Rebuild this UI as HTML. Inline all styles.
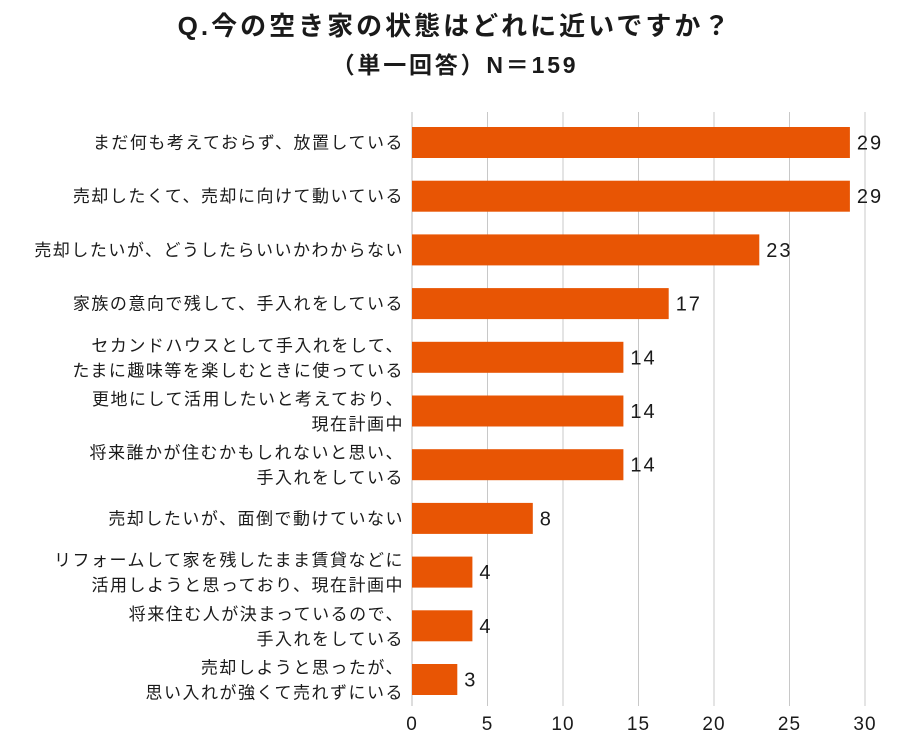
<!DOCTYPE html>
<html><head><meta charset="utf-8"><style>
body{margin:0;background:#fff;width:910px;height:738px;overflow:hidden}
svg text{font-family:"Liberation Sans","Noto Sans CJK JP",sans-serif;fill:#1a1a1a}
</style></head><body>
<svg id="chart" width="910" height="738">
<text x="455" y="35" text-anchor="middle" font-size="26" font-weight="bold" letter-spacing="3">Q.今の空き家の状態はどれに近いですか？</text>
<text x="455" y="73" text-anchor="middle" font-size="23" font-weight="bold" letter-spacing="2.8">（単一回答）N＝159</text>
<g id="grid"></g><g id="bars"></g>
</svg>
<script>
const categories=[["まだ何も考えておらず、放置している"],["売却したくて、売却に向けて動いている"],["売却したいが、どうしたらいいかわからない"],["家族の意向で残して、手入れをしている"],["セカンドハウスとして手入れをして、","たまに趣味等を楽しむときに使っている"],["更地にして活用したいと考えており、","現在計画中"],["将来誰かが住むかもしれないと思い、","手入れをしている"],["売却したいが、面倒で動けていない"],["リフォームして家を残したまま賃貸などに","活用しようと思っており、現在計画中"],["将来住む人が決まっているので、","手入れをしている"],["売却しようと思ったが、","思い入れが強くて売れずにいる"]];
const values=[29,29,23,17,14,14,14,8,4,4,3];
const ticks=[0,5,10,15,20,25,30];
const NS="http://www.w3.org/2000/svg";
const x0=412,x1=865,xmax=30;
const xs=v=>x0+(x1-x0)*v/xmax;
const yTop=127,step=53.7,bh=31;
const grid=document.getElementById('grid'),bars=document.getElementById('bars');
function mk(t,a,p){const e=document.createElementNS(NS,t);for(const k in a)e.setAttribute(k,a[k]);p.appendChild(e);return e;}
ticks.forEach(t=>{
 const l=mk('line',{x1:xs(t),x2:xs(t),y1:112,y2:706,stroke:t===0?'#bbb':'#c8c8c8','stroke-width':1},grid);
 
 
 const tx=mk('text',{x:xs(t),y:730,'text-anchor':'middle','font-size':19,'letter-spacing':1},grid);
 tx.textContent=t;
 
 
});
values.forEach((v,i)=>{
 const y=yTop+i*step;
 const r=mk('rect',{x:x0,y:y,width:xs(v)-x0,height:bh,fill:'#e85504'},bars);
 
 
 const vt=mk('text',{x:xs(v)+7,y:y+bh/2+7,'font-size':20,'letter-spacing':2,'font-weight':'500'},bars);
 vt.textContent=v;
 
 
 const lines=categories[i];
 lines.forEach((s,j)=>{
  const cy=y+bh/2+6+(lines.length===1?0:(j===0?-12:13));
  const ct=mk('text',{x:404,y:cy,'text-anchor':'end','font-size':17,'letter-spacing':1.5},bars);
  ct.textContent=s;
  
  
 });
});
</script>
</body></html>
